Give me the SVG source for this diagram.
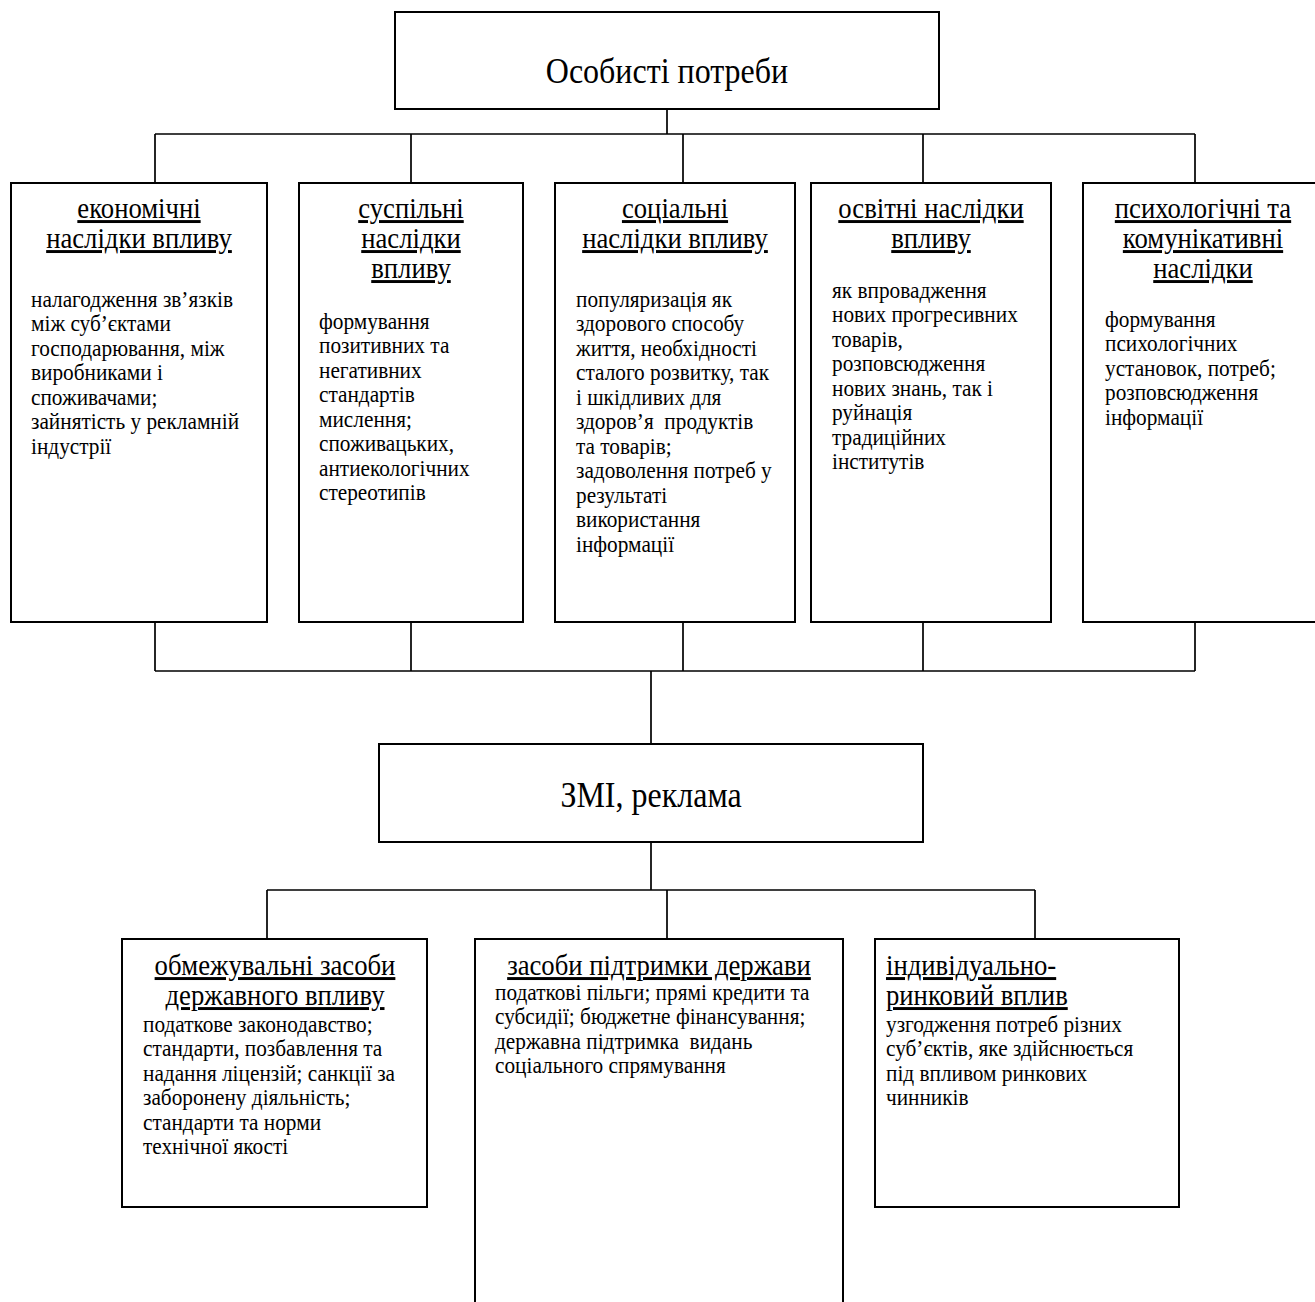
<svg xmlns="http://www.w3.org/2000/svg" width="1315" height="1302" viewBox="0 0 1315 1302">
<style>
text{font-family:"Liberation Serif","Times New Roman",serif;fill:#000}
.box{fill:#fff;stroke:#000;stroke-width:2}
.ln{fill:none;stroke:#000;stroke-width:1.7}
.big{font-size:32px;text-anchor:middle}
.ttl{font-size:26.7px;text-decoration:underline}
.c{text-anchor:middle}
.body{font-size:21.3px;white-space:pre}
</style>
<rect width="1315" height="1302" fill="#fff"/>
<g id="connectors">
<path class="ln" d="M667 109V134M155 134H1195M155 134V183M411 134V183M683 134V183M923 134V183M1195 134V183"/>
<path class="ln" d="M155 622V671M411 622V671M683 622V671M923 622V671M1195 622V671M155 671H1195M651 671V744"/>
<path class="ln" d="M651 842V890M267 890H1035M267 890V939M667 890V939M1035 890V939"/>
</g>
<g id="n-root">
<rect class="box" x="395" y="12" width="544" height="97"/>
<text class="big" x="667" y="83" transform="matrix(1 0 0 1.1 0 -8.3)">Особисті потреби</text>
</g>
<g id="n-econ">
<rect class="box" x="11" y="183" width="256" height="439"/>
<text class="ttl c" x="139" y="218" transform="matrix(1 0 0 1.1 0 -21.8)">економічні</text>
<text class="ttl c" x="139" y="248" transform="matrix(1 0 0 1.1 0 -24.8)">наслідки впливу</text>
<text class="body" x="31" y="307" transform="matrix(1 0 0 1.1 0 -30.7)">налагодження зв’язків</text>
<text class="body" x="31" y="331.5" transform="matrix(1 0 0 1.1 0 -33.15)">між суб’єктами</text>
<text class="body" x="31" y="356" transform="matrix(1 0 0 1.1 0 -35.6)">господарювання, між</text>
<text class="body" x="31" y="380.5" transform="matrix(1 0 0 1.1 0 -38.05)">виробниками і</text>
<text class="body" x="31" y="405" transform="matrix(1 0 0 1.1 0 -40.5)">споживачами;</text>
<text class="body" x="31" y="429.5" transform="matrix(1 0 0 1.1 0 -42.95)">зайнятість у рекламній</text>
<text class="body" x="31" y="454" transform="matrix(1 0 0 1.1 0 -45.4)">індустрії</text>
</g>
<g id="n-susp">
<rect class="box" x="299" y="183" width="224" height="439"/>
<text class="ttl c" x="411" y="218" transform="matrix(1 0 0 1.1 0 -21.8)">суспільні</text>
<text class="ttl c" x="411" y="248" transform="matrix(1 0 0 1.1 0 -24.8)">наслідки</text>
<text class="ttl c" x="411" y="278" transform="matrix(1 0 0 1.1 0 -27.8)">впливу</text>
<text class="body" x="319" y="329" transform="matrix(1 0 0 1.1 0 -32.9)">формування</text>
<text class="body" x="319" y="353.5" transform="matrix(1 0 0 1.1 0 -35.35)">позитивних та</text>
<text class="body" x="319" y="378" transform="matrix(1 0 0 1.1 0 -37.8)">негативних</text>
<text class="body" x="319" y="402.5" transform="matrix(1 0 0 1.1 0 -40.25)">стандартів</text>
<text class="body" x="319" y="427" transform="matrix(1 0 0 1.1 0 -42.7)">мислення;</text>
<text class="body" x="319" y="451.5" transform="matrix(1 0 0 1.1 0 -45.15)">споживацьких,</text>
<text class="body" x="319" y="476" transform="matrix(1 0 0 1.1 0 -47.6)">антиекологічних</text>
<text class="body" x="319" y="500.5" transform="matrix(1 0 0 1.1 0 -50.05)">стереотипів</text>
</g>
<g id="n-soc">
<rect class="box" x="555" y="183" width="240" height="439"/>
<text class="ttl c" x="675" y="218" transform="matrix(1 0 0 1.1 0 -21.8)">соціальні</text>
<text class="ttl c" x="675" y="248" transform="matrix(1 0 0 1.1 0 -24.8)">наслідки впливу</text>
<text class="body" x="576" y="307" transform="matrix(1 0 0 1.1 0 -30.7)">популяризація як</text>
<text class="body" x="576" y="331.5" transform="matrix(1 0 0 1.1 0 -33.15)">здорового способу</text>
<text class="body" x="576" y="356" transform="matrix(1 0 0 1.1 0 -35.6)">життя, необхідності</text>
<text class="body" x="576" y="380.5" transform="matrix(1 0 0 1.1 0 -38.05)">сталого розвитку, так</text>
<text class="body" x="576" y="405" transform="matrix(1 0 0 1.1 0 -40.5)">і шкідливих для</text>
<text class="body" x="576" y="429.5" transform="matrix(1 0 0 1.1 0 -42.95)">здоров’я  продуктів</text>
<text class="body" x="576" y="454" transform="matrix(1 0 0 1.1 0 -45.4)">та товарів;</text>
<text class="body" x="576" y="478.5" transform="matrix(1 0 0 1.1 0 -47.85)">задоволення потреб у</text>
<text class="body" x="576" y="503" transform="matrix(1 0 0 1.1 0 -50.3)">результаті</text>
<text class="body" x="576" y="527.5" transform="matrix(1 0 0 1.1 0 -52.75)">використання</text>
<text class="body" x="576" y="552" transform="matrix(1 0 0 1.1 0 -55.2)">інформації</text>
</g>
<g id="n-osv">
<rect class="box" x="811" y="183" width="240" height="439"/>
<text class="ttl c" x="931" y="218" transform="matrix(1 0 0 1.1 0 -21.8)">освітні наслідки</text>
<text class="ttl c" x="931" y="248" transform="matrix(1 0 0 1.1 0 -24.8)">впливу</text>
<text class="body" x="832" y="298" transform="matrix(1 0 0 1.1 0 -29.8)">як впровадження</text>
<text class="body" x="832" y="322.5" transform="matrix(1 0 0 1.1 0 -32.25)">нових прогресивних</text>
<text class="body" x="832" y="347" transform="matrix(1 0 0 1.1 0 -34.7)">товарів,</text>
<text class="body" x="832" y="371.5" transform="matrix(1 0 0 1.1 0 -37.15)">розповсюдження</text>
<text class="body" x="832" y="396" transform="matrix(1 0 0 1.1 0 -39.6)">нових знань, так і</text>
<text class="body" x="832" y="420.5" transform="matrix(1 0 0 1.1 0 -42.05)">руйнація</text>
<text class="body" x="832" y="445" transform="matrix(1 0 0 1.1 0 -44.5)">традиційних</text>
<text class="body" x="832" y="469.5" transform="matrix(1 0 0 1.1 0 -46.95)">інститутів</text>
</g>
<g id="n-psych">
<rect class="box" x="1083" y="183" width="240" height="439"/>
<text class="ttl c" x="1203" y="218" transform="matrix(1 0 0 1.1 0 -21.8)">психологічні та</text>
<text class="ttl c" x="1203" y="248" transform="matrix(1 0 0 1.1 0 -24.8)">комунікативні</text>
<text class="ttl c" x="1203" y="278" transform="matrix(1 0 0 1.1 0 -27.8)">наслідки</text>
<text class="body" x="1105" y="327" transform="matrix(1 0 0 1.1 0 -32.7)">формування</text>
<text class="body" x="1105" y="351.5" transform="matrix(1 0 0 1.1 0 -35.15)">психологічних</text>
<text class="body" x="1105" y="376" transform="matrix(1 0 0 1.1 0 -37.6)">установок, потреб;</text>
<text class="body" x="1105" y="400.5" transform="matrix(1 0 0 1.1 0 -40.05)">розповсюдження</text>
<text class="body" x="1105" y="425" transform="matrix(1 0 0 1.1 0 -42.5)">інформації</text>
</g>
<g id="n-zmi">
<rect class="box" x="379" y="744" width="544" height="98"/>
<text class="big" x="651" y="807" transform="matrix(1 0 0 1.1 0 -80.7)">ЗМІ, реклама</text>
</g>
<g id="n-obm">
<rect class="box" x="122" y="939" width="305" height="268"/>
<text class="ttl c" x="275" y="975" transform="matrix(1 0 0 1.1 0 -97.5)">обмежувальні засоби</text>
<text class="ttl c" x="275" y="1005" transform="matrix(1 0 0 1.1 0 -100.5)">державного впливу</text>
<text class="body" x="143" y="1032" transform="matrix(1 0 0 1.1 0 -103.2)">податкове законодавство;</text>
<text class="body" x="143" y="1056.5" transform="matrix(1 0 0 1.1 0 -105.65)">стандарти, позбавлення та</text>
<text class="body" x="143" y="1081" transform="matrix(1 0 0 1.1 0 -108.1)">надання ліцензій; санкції за</text>
<text class="body" x="143" y="1105.5" transform="matrix(1 0 0 1.1 0 -110.55)">заборонену діяльність;</text>
<text class="body" x="143" y="1130" transform="matrix(1 0 0 1.1 0 -113)">стандарти та норми</text>
<text class="body" x="143" y="1154.5" transform="matrix(1 0 0 1.1 0 -115.45)">технічної якості</text>
</g>
<g id="n-pidtr">
<rect class="box" x="475" y="939" width="368" height="400"/>
<text class="ttl c" x="659" y="975" transform="matrix(1 0 0 1.1 0 -97.5)">засоби підтримки держави</text>
<text class="body" x="495" y="1000" transform="matrix(1 0 0 1.1 0 -100)">податкові пільги; прямі кредити та</text>
<text class="body" x="495" y="1024.5" transform="matrix(1 0 0 1.1 0 -102.45)">субсидії; бюджетне фінансування;</text>
<text class="body" x="495" y="1049" transform="matrix(1 0 0 1.1 0 -104.9)">державна підтримка  видань</text>
<text class="body" x="495" y="1073.5" transform="matrix(1 0 0 1.1 0 -107.35)">соціального спрямування</text>
</g>
<g id="n-ind">
<rect class="box" x="875" y="939" width="304" height="268"/>
<text class="ttl" x="886" y="975" transform="matrix(1 0 0 1.1 0 -97.5)">індивідуально-</text>
<text class="ttl" x="886" y="1005" transform="matrix(1 0 0 1.1 0 -100.5)">ринковий вплив</text>
<text class="body" x="886" y="1032" transform="matrix(1 0 0 1.1 0 -103.2)">узгодження потреб різних</text>
<text class="body" x="886" y="1056.5" transform="matrix(1 0 0 1.1 0 -105.65)">суб’єктів, яке здійснюється</text>
<text class="body" x="886" y="1081" transform="matrix(1 0 0 1.1 0 -108.1)">під впливом ринкових</text>
<text class="body" x="886" y="1105.5" transform="matrix(1 0 0 1.1 0 -110.55)">чинників</text>
</g>
</svg>
